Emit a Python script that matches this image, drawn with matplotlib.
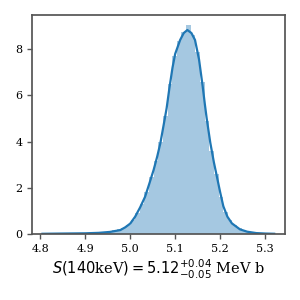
import numpy as np
import matplotlib
matplotlib.use("Agg")
import matplotlib.pyplot as plt

# histogram of posterior samples (density), 50 bins
bin_lo = 4.805
bin_hi = 5.32
hist_heights = [
    0.01, 0.00, 0.01, 0.01, 0.02, 0.01, 0.02, 0.02, 0.03, 0.03,
    0.04, 0.05, 0.07, 0.09, 0.12, 0.16, 0.22, 0.28, 0.40, 0.60,
    0.90, 1.30, 1.80, 2.45, 3.15, 4.00, 5.10, 6.50, 7.70, 8.35,
    8.75, 9.05, 8.60, 7.90, 6.60, 4.90, 3.60, 2.60, 1.60, 0.95,
    0.60, 0.38, 0.25, 0.15, 0.09, 0.05, 0.03, 0.02, 0.01, 0.01,
]

# kde curve
kde_x = [4.805, 4.85, 4.90, 4.93, 4.955, 4.978, 4.989, 5.000, 5.011, 5.022,
         5.033, 5.042, 5.052, 5.060, 5.067, 5.076, 5.081, 5.087, 5.094, 5.100,
         5.111, 5.119, 5.127, 5.136, 5.144, 5.153, 5.161, 5.166, 5.170, 5.178,
         5.186, 5.193, 5.200, 5.207, 5.216, 5.226, 5.244, 5.260, 5.280, 5.300,
         5.320]
kde_y = [0.01, 0.02, 0.03, 0.05, 0.09, 0.17, 0.29, 0.45, 0.75, 1.15,
         1.61, 2.15, 2.77, 3.35, 3.93, 4.90, 5.45, 6.30, 7.20, 7.80,
         8.40, 8.70, 8.83, 8.70, 8.40, 7.55, 6.40, 5.60, 5.00, 3.95,
         3.10, 2.45, 1.80, 1.20, 0.75, 0.46, 0.20, 0.10, 0.04, 0.02,
         0.01]

plt.rcParams["font.family"] = "DejaVu Serif"
plt.rcParams["axes.edgecolor"] = "#555555"
plt.rcParams["xtick.color"] = "#555555"
plt.rcParams["ytick.color"] = "#555555"
plt.rcParams["xtick.labelcolor"] = "black"
plt.rcParams["ytick.labelcolor"] = "black"

fig = plt.figure(figsize=(3, 3), dpi=100)
ax = fig.add_axes([0.107, 0.22, 0.843, 0.73])

edges = np.linspace(bin_lo, bin_hi, len(hist_heights) + 1)
ax.bar(edges[:-1], hist_heights, width=np.diff(edges), align="edge",
       color="#1f77b4", alpha=0.4, linewidth=0)
ax.plot(kde_x, kde_y, color="#1f77b4", lw=1.6, solid_joinstyle="round")

ax.set_xlim(4.782, 5.344)
ax.set_ylim(0, 9.48)
ax.set_xticks([4.8, 4.9, 5.0, 5.1, 5.2, 5.3])
ax.set_yticks([0, 2, 4, 6, 8])
for s in ax.spines.values():
    s.set_linewidth(1.25)
ax.tick_params(labelsize=8, length=3.5, width=1)
ax.set_xlabel(r"$S(140$keV$) = 5.12^{+0.04}_{-0.05}$ MeV b", fontsize=10.5,
              labelpad=3)

fig.savefig("out.png", dpi=100)
